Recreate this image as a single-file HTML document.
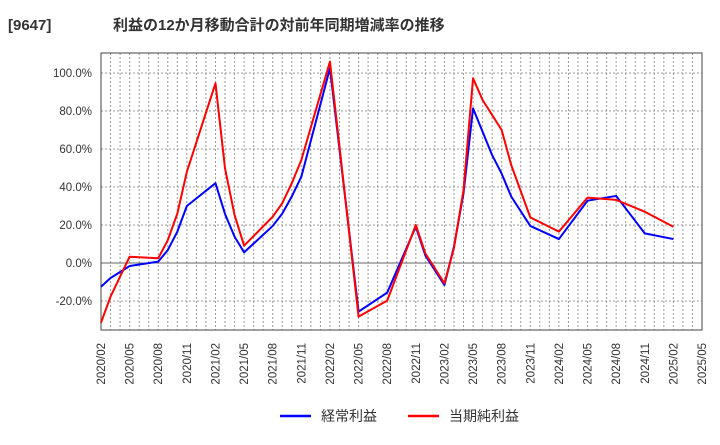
<!DOCTYPE html>
<html><head><meta charset="utf-8"><style>
body{margin:0;background:#fff;font-family:"Liberation Sans","Noto Sans CJK JP",sans-serif;}
svg text{font-family:"Liberation Sans","Noto Sans CJK JP",sans-serif;}
</style></head><body>
<svg id="chart" width="720" height="440" xmlns="http://www.w3.org/2000/svg">
<text x="8" y="30" font-size="15" font-weight="bold" fill="#333">[9647]<tspan x="113">利益の12か月移動合計の対前年同期増減率の推移</tspan></text>
<g id="grid"></g><g id="axes"></g><g id="series"></g>
<g>
<line x1="280" y1="416" x2="311" y2="416" stroke="#0000ff" stroke-width="2.5"/>
<text x="321" y="421" font-size="14" fill="#333">経常利益</text>
<line x1="408" y1="416" x2="439" y2="416" stroke="#ff0000" stroke-width="2.5"/>
<text x="449" y="421" font-size="14" fill="#333">当期純利益</text>
</g>
</svg>
<script>
const tickLabels=["2020/02","2020/05","2020/08","2020/11","2021/02","2021/05","2021/08","2021/11","2022/02","2022/05","2022/08","2022/11","2023/02","2023/05","2023/08","2023/11","2024/02","2024/05","2024/08","2024/11","2025/02","2025/05"];
const yTicks=[-20,0,20,40,60,80,100];
const blueMonths=[0,1,3,6,7,8,9,12,13,14,15,18,19,20,21,24,27,30,33,34,36,37,38,39,41,42,43,45,48,51,54,57,60];
const blueValues=[-12.5,-7.9,-1.6,0.7,6.8,16.5,30,42,25.8,13.9,5.6,19.5,26,35,45.4,102.5,-25.6,-15.6,19.1,4,-11.6,8.6,36.7,81.4,56.8,47,35,19.5,12.6,32.8,35.3,15.6,12.6];
const redMonths=[0,1,3,6,7,8,9,12,13,14,15,18,19,20,21,24,27,30,33,34,36,37,38,39,40,42,43,45,48,51,54,57,60];
const redValues=[-31.4,-17.7,3.3,2.5,12,26,48,94.6,49.8,25.3,9.1,24.4,31.5,42,54.2,106,-28.2,-19.8,20,5,-10.7,7.9,38.4,97.2,85.8,70,51.6,24,16.5,34.4,33.2,27,19.1];
const NS="http://www.w3.org/2000/svg";
const L=101,R=702,T=53,B=330,totalMonths=63;
const x=m=>L+(R-L)*m/totalMonths;
const y=v=>263-v*1.9;
function mk(tag,attrs,parent){const e=document.createElementNS(NS,tag);for(const k in attrs)e.setAttribute(k,attrs[k]);parent.appendChild(e);return e;}
const grid=document.getElementById('grid'),axes=document.getElementById('axes'),series=document.getElementById('series');
for(let m=1;m<totalMonths;m++){
  const l=mk('line',{x1:x(m),x2:x(m),y1:T,y2:B,stroke:'#999','stroke-dasharray':'2,2','stroke-width':1},grid);
  
  
}
yTicks.forEach(v=>{
  const l=mk('line',{x1:L,x2:R,y1:y(v),y2:y(v),stroke:v===0?'#666':'#999','stroke-dasharray':v===0?'':'2,2','stroke-width':1},grid);
  
  
  const t=mk('text',{x:92,y:y(v)+4,'text-anchor':'end','font-size':11.5,fill:'#333'},axes);
  t.textContent=v.toFixed(1)+'%';
  
  
});
const frame=mk('rect',{x:L,y:T,width:R-L,height:B-T,fill:'none',stroke:'#444','stroke-width':1},axes);


tickLabels.forEach((s,i)=>{
  const xx=x(i*3)+4;
  const t=mk('text',{x:0,y:0,transform:`translate(${xx},343) rotate(-90)`,'text-anchor':'end','font-size':11.5,fill:'#333'},axes);
  t.textContent=s;
  
  
});
function line(ms,vs,color,name){
  const p=mk('polyline',{points:ms.map((m,i)=>x(m)+','+y(vs[i])).join(' '),fill:'none',stroke:color,'stroke-width':2,'stroke-linejoin':'round'},series);
  
  
}
line(blueMonths,blueValues,'#0000ff','ordinary-profit-line');
line(redMonths,redValues,'#ff0000','net-profit-line');
</script>
</body></html>
